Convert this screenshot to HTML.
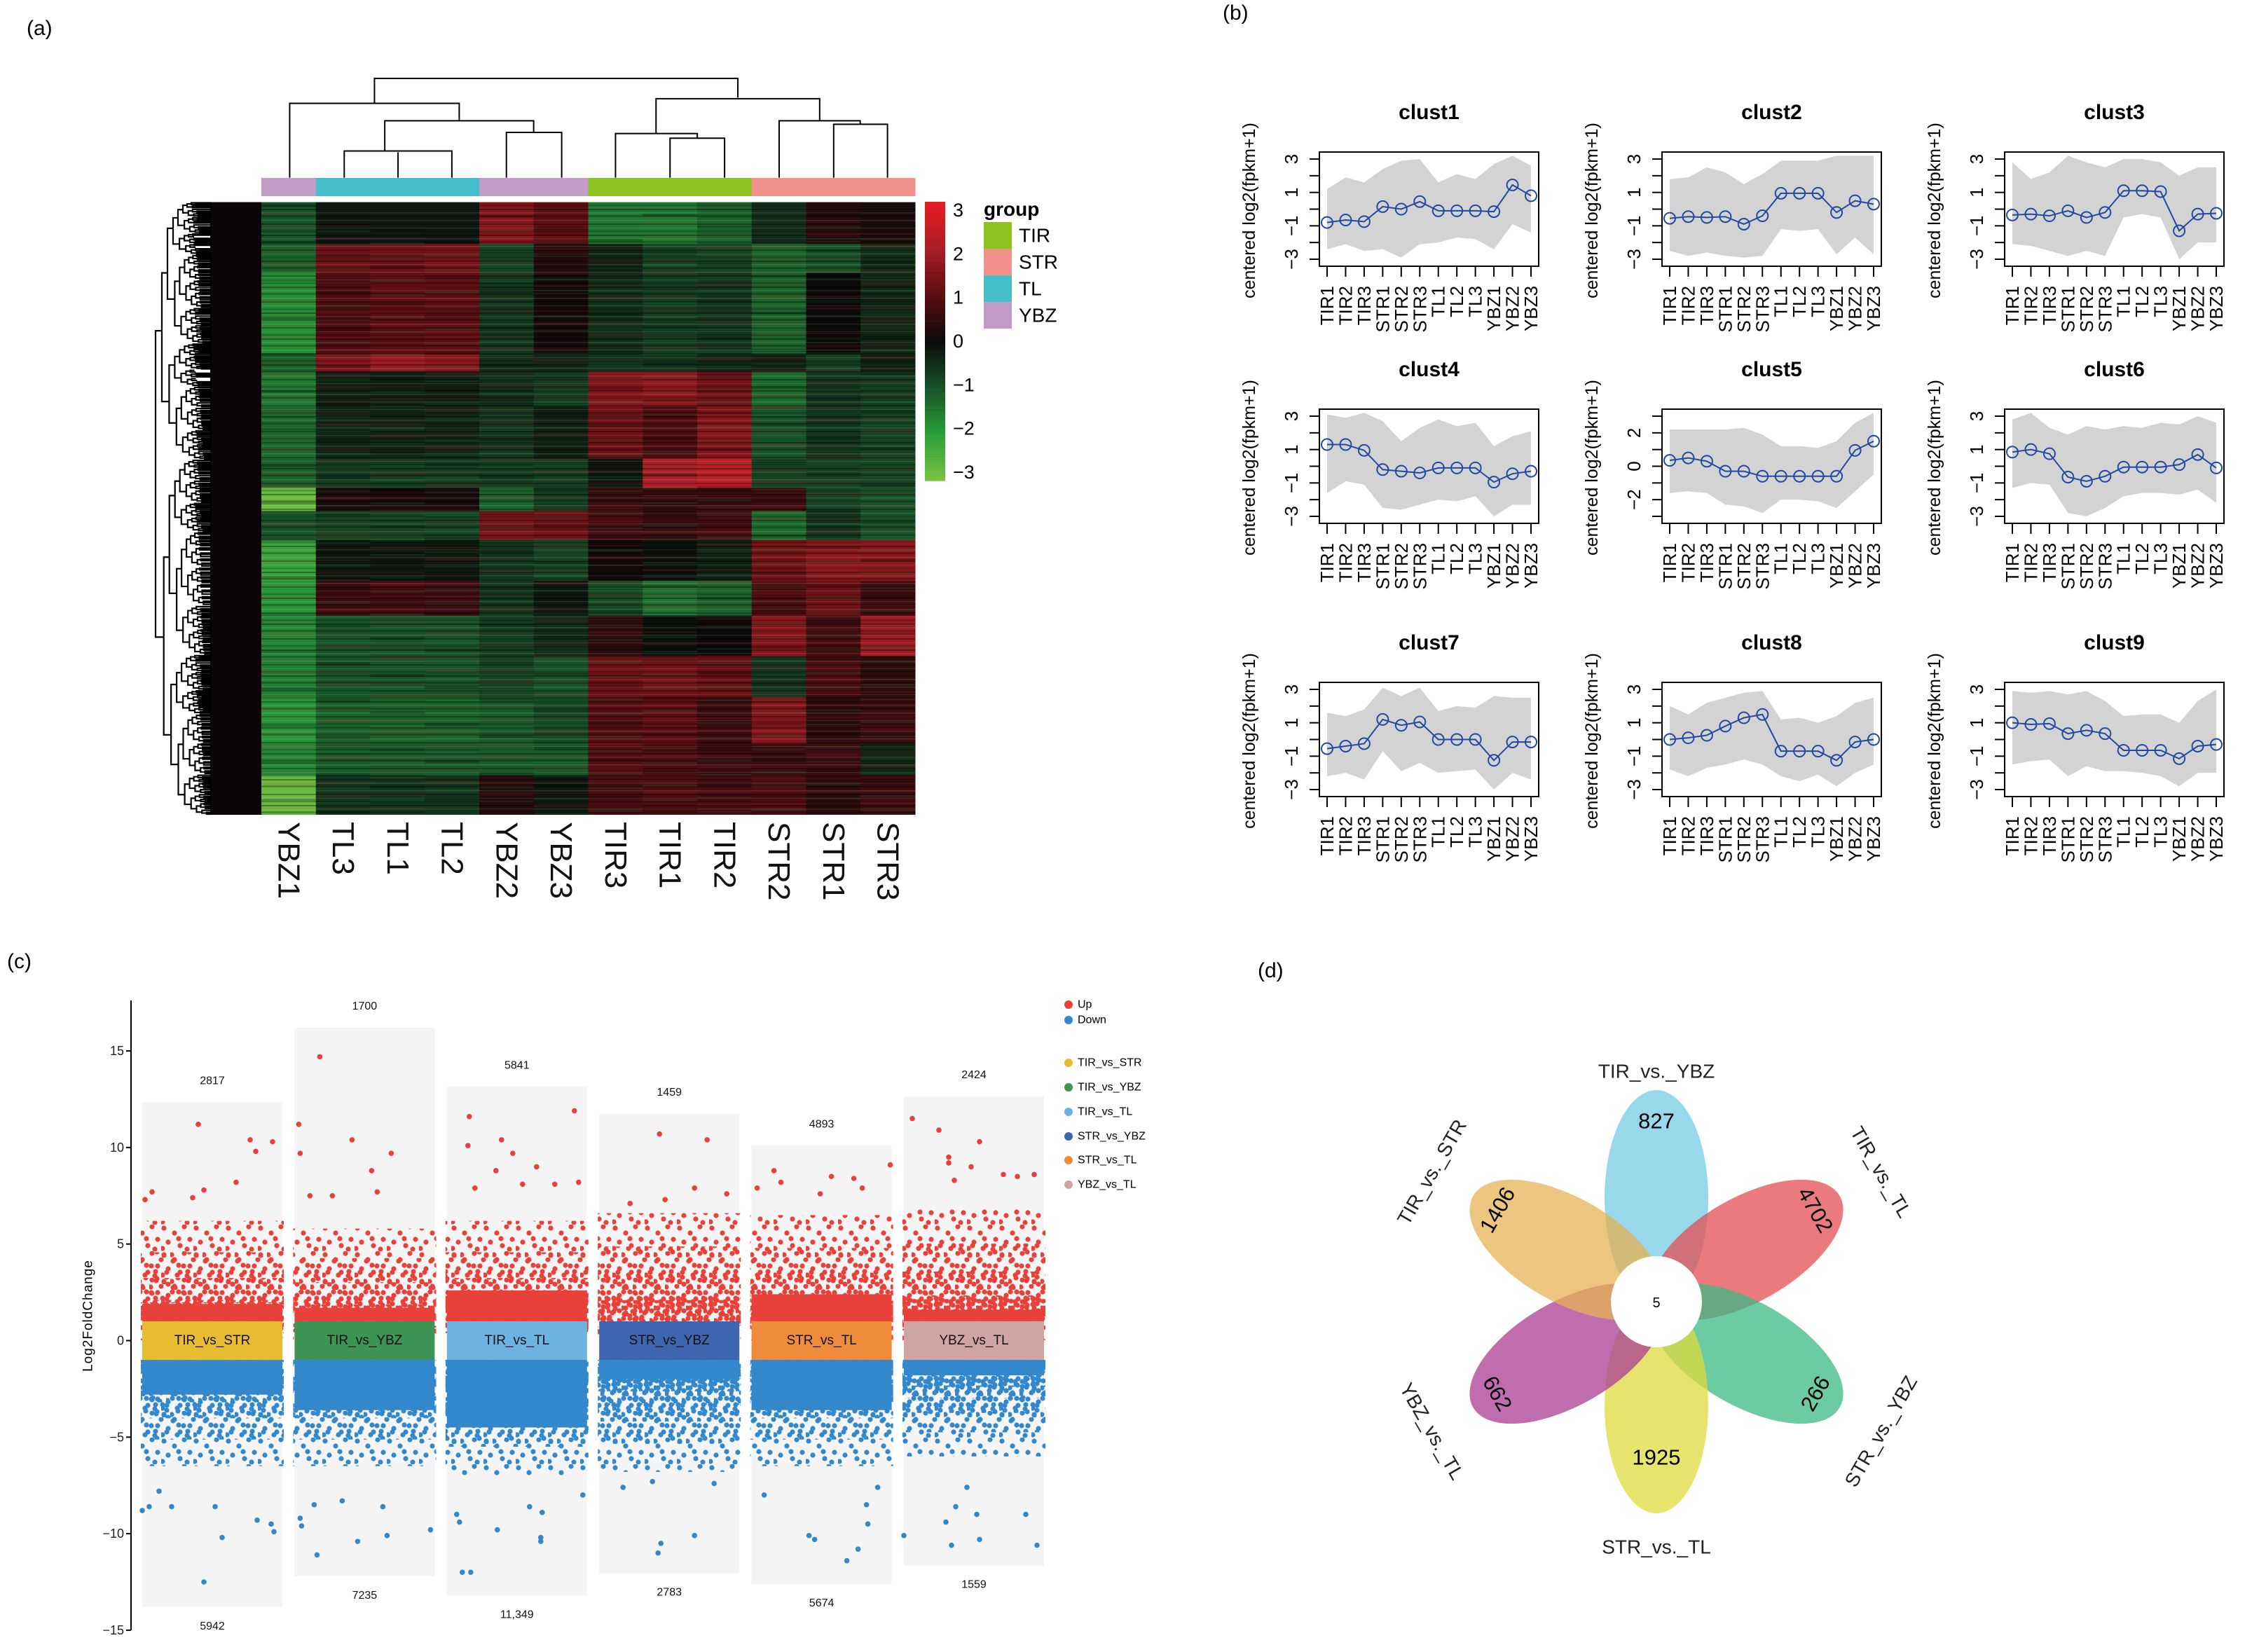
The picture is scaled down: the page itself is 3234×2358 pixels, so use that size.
<!DOCTYPE html>
<html><head><meta charset="utf-8"><style>
html,body{margin:0;padding:0;background:#fff;}
svg{display:block;font-family:"Liberation Sans",Arial,sans-serif;}
</style></head><body>
<svg id="fig" xmlns="http://www.w3.org/2000/svg" width="3234" height="2358" viewBox="0 0 3234 2358">
<defs>
<pattern id="stripes" width="12" height="37" patternUnits="userSpaceOnUse">
<rect x="0" y="2" width="12" height="2" fill="#000" opacity="0.35"/>
<rect x="0" y="7" width="12" height="1.5" fill="#fff" opacity="0.10"/>
<rect x="0" y="11" width="12" height="3" fill="#000" opacity="0.25"/>
<rect x="0" y="18" width="12" height="1.5" fill="#fff" opacity="0.12"/>
<rect x="0" y="23" width="12" height="2" fill="#000" opacity="0.3"/>
<rect x="0" y="29" width="12" height="1" fill="#fff" opacity="0.1"/>
<rect x="0" y="33" width="12" height="2.5" fill="#000" opacity="0.2"/>
</pattern>
<pattern id="stripes2" width="12" height="53" patternUnits="userSpaceOnUse">
<rect x="0" y="4" width="12" height="3" fill="#c02028" opacity="0.18"/>
<rect x="0" y="15" width="12" height="2" fill="#1c8a35" opacity="0.18"/>
<rect x="0" y="27" width="12" height="4" fill="#000" opacity="0.22"/>
<rect x="0" y="40" width="12" height="2" fill="#c02028" opacity="0.15"/>
<rect x="0" y="47" width="12" height="3" fill="#1c8a35" opacity="0.15"/>
</pattern>
<pattern id="dotsUp" width="46" height="38" patternUnits="userSpaceOnUse">
<circle cx="4" cy="5" r="3.6" fill="#e8413a"/><circle cx="19" cy="12" r="3.6" fill="#e8413a"/><circle cx="33" cy="3" r="3.6" fill="#e8413a"/><circle cx="41" cy="21" r="3.6" fill="#e8413a"/><circle cx="10" cy="25" r="3.6" fill="#e8413a"/><circle cx="27" cy="30" r="3.6" fill="#e8413a"/><circle cx="37" cy="35" r="3.6" fill="#e8413a"/><circle cx="2" cy="34" r="3.6" fill="#e8413a"/><circle cx="25" cy="20" r="3.6" fill="#e8413a"/>
</pattern>
<pattern id="dotsDown" width="46" height="38" patternUnits="userSpaceOnUse">
<circle cx="4" cy="5" r="3.6" fill="#3388cc"/><circle cx="19" cy="12" r="3.6" fill="#3388cc"/><circle cx="33" cy="3" r="3.6" fill="#3388cc"/><circle cx="41" cy="21" r="3.6" fill="#3388cc"/><circle cx="10" cy="25" r="3.6" fill="#3388cc"/><circle cx="27" cy="30" r="3.6" fill="#3388cc"/><circle cx="37" cy="35" r="3.6" fill="#3388cc"/><circle cx="2" cy="34" r="3.6" fill="#3388cc"/><circle cx="25" cy="20" r="3.6" fill="#3388cc"/>
</pattern>
</defs>

<text x="38" y="50" font-size="30">(a)</text>
<text x="1745" y="28" font-size="30">(b)</text>
<text x="10" y="1382" font-size="30">(c)</text>
<text x="1795" y="1395" font-size="30">(d)</text>

<g id="panelA"></g>
<g id="panelB"></g>
<g id="panelC"></g>
<g id="panelD"></g>
</svg>

<script>
// ---------- Panel A data ----------
const hmSamples = ['YBZ1','TL3','TL1','TL2','YBZ2','YBZ3','TIR3','TIR1','TIR2','STR2','STR1','STR3'];
const hmGroups = ['YBZ','TL','TL','TL','YBZ','YBZ','TIR','TIR','TIR','STR','STR','STR'];
const hmRowBreaks = [0,72,122,262,292,352,442,492,532,582,652,712,782,852,932,987,1055];
const hmBand1 = [-1.0,-0.2,-0.2,-0.2,1.5,1.0,-1.5,-1.5,-1.2,-0.5,0.3,0.2];
const hmBand2 = [-1.2,1.2,1.2,1.3,-0.8,0.3,-0.3,-0.8,-0.8,-1.2,-1.0,-0.5];
const hmBand3 = [-1.8,0.8,1.0,1.0,-0.6,0.1,-0.5,-0.7,-0.6,-1.2,0.0,-0.4];
const hmBand4 = [-1.2,1.5,1.8,1.6,-0.5,-0.4,-0.6,-0.6,-0.4,-0.3,-0.8,-0.3];
const hmBand5 = [-1.5,-0.3,-0.3,-0.3,-0.5,-0.7,1.5,1.6,1.2,-1.3,-0.6,-0.7];
const hmBand6 = [-1.3,-0.4,-0.4,-0.4,-0.6,-0.3,1.2,0.8,1.5,-1.0,-0.6,-0.8];
const hmBand7 = [-1.2,-0.7,-0.7,-0.7,-0.7,-0.7,-0.2,2.0,2.3,-0.8,-0.8,-0.8];
const hmBand8 = [-2.8,0.2,0.2,0.2,-1.2,-0.7,0.6,0.5,0.5,0.6,-0.8,-1.0];
const hmBand9 = [-1.0,-0.8,-0.8,-0.8,1.3,1.2,0.7,0.5,0.7,-1.3,-0.6,-1.0];
const hmBand10 = [-2.2,-0.2,-0.2,-0.2,-0.6,-0.8,0.1,-0.1,-0.3,1.3,1.6,1.6];
const hmBand11 = [-1.9,0.6,0.7,0.6,-0.6,-0.2,-0.9,-1.4,-1.2,0.8,1.2,0.6];
const hmBand12 = [-1.7,-1.0,-1.0,-1.0,-0.7,-0.5,0.4,-0.1,0.0,1.5,0.7,1.8];
const hmBand13 = [-1.6,-1.0,-1.0,-1.0,-0.8,-1.0,1.2,1.3,1.1,-0.6,0.8,0.4];
const hmBand14 = [-1.9,-1.2,-1.2,-1.2,-1.1,-0.9,0.9,1.0,0.6,1.5,0.4,0.6];
const hmBand15 = [-1.7,-1.1,-1.1,-1.1,-1.1,-1.1,0.9,0.8,0.6,0.6,0.6,-0.4];
const hmBand16 = [-2.8,-0.6,-0.6,-0.6,0.3,-0.2,0.7,0.8,0.7,0.8,0.4,0.6];
const hmBands = [hmBand1,hmBand2,hmBand3,hmBand4,hmBand5,hmBand6,hmBand7,hmBand8,hmBand9,hmBand10,hmBand11,hmBand12,hmBand13,hmBand14,hmBand15,hmBand16];
const legendGroups = ['TIR','STR','TL','YBZ'];
const colorbarTicks = [3,2,1,0,-1,-2,-3];

// ---------- Panel B data ----------
const clSamples = ['TIR1','TIR2','TIR3','STR1','STR2','STR3','TL1','TL2','TL3','YBZ1','YBZ2','YBZ3'];
const clNames = ['clust1','clust2','clust3','clust4','clust5','clust6','clust7','clust8','clust9'];
const clMean1 = [-0.8,-0.65,-0.75,0.15,0,0.45,-0.1,-0.1,-0.1,-0.15,1.45,0.8];
const clMean2 = [-0.55,-0.45,-0.5,-0.45,-0.9,-0.4,0.95,0.95,0.95,-0.2,0.5,0.3];
const clMean3 = [-0.35,-0.3,-0.4,-0.1,-0.5,-0.2,1.1,1.1,1.05,-1.3,-0.3,-0.25];
const clMean4 = [1.3,1.3,0.95,-0.2,-0.3,-0.4,-0.1,-0.1,-0.1,-0.95,-0.45,-0.3];
const clMean5 = [0.35,0.5,0.3,-0.3,-0.3,-0.6,-0.6,-0.6,-0.6,-0.6,0.95,1.5];
const clMean6 = [0.85,1.0,0.75,-0.65,-0.9,-0.6,-0.05,-0.05,-0.05,0.1,0.7,-0.1];
const clMean7 = [-0.55,-0.4,-0.25,1.2,0.85,1.05,0,0,0,-1.25,-0.15,-0.15];
const clMean8 = [0,0.1,0.25,0.8,1.3,1.5,-0.7,-0.7,-0.7,-1.25,-0.15,0];
const clMean9 = [1.0,0.9,0.95,0.35,0.55,0.35,-0.65,-0.65,-0.65,-1.15,-0.4,-0.3];
const clUpper1 = [1.2,1.9,1.6,2.4,2.9,3.0,1.6,2.1,1.8,2.7,3.2,2.6];
const clLower1 = [-2.4,-2.1,-2.5,-2.4,-2.9,-2.1,-2.0,-1.7,-1.8,-2.4,-0.9,-1.4];
const clUpper2 = [1.8,1.9,2.5,2.2,1.5,2.1,2.9,2.9,2.9,3.2,3.2,3.2];
const clLower2 = [-2.5,-2.8,-2.6,-2.8,-2.9,-2.8,-1.2,-1.3,-1.2,-2.7,-1.7,-2.7];
const clUpper3 = [2.8,1.8,2.2,3.2,2.8,2.5,3.0,3.0,2.8,2.0,2.5,2.5];
const clLower3 = [-2.1,-2.2,-2.5,-2.8,-2.5,-2.8,-0.5,-0.3,-0.5,-3.0,-2.0,-2.0];
const clUpper4 = [3.1,2.9,3.2,2.7,1.5,2.3,2.8,2.4,2.6,1.2,1.8,2.1];
const clLower4 = [-1.6,-0.9,-1.1,-2.5,-2.6,-2.3,-2.0,-2.1,-1.8,-3.0,-2.3,-2.3];
const clUpper5 = [2.2,2.2,2.2,2.2,2.3,1.9,1.2,1.2,1.1,1.5,2.6,3.2];
const clLower5 = [-1.6,-1.5,-1.6,-2.3,-2.4,-2.8,-2.0,-2.0,-2.1,-2.5,-1.5,-0.5];
const clUpper6 = [2.8,3.2,2.3,1.9,2.4,2.2,2.4,2.3,2.6,2.5,3.0,2.6];
const clLower6 = [-1.3,-1.0,-1.1,-2.8,-3.0,-2.5,-1.8,-1.6,-1.6,-1.7,-1.4,-2.2];
const clUpper7 = [1.6,1.4,1.8,3.1,2.6,3.1,1.7,2.0,1.9,2.6,2.5,2.5];
const clLower7 = [-2.2,-2.0,-2.4,-0.7,-1.9,-1.4,-2.0,-1.9,-1.8,-3.0,-2.0,-2.4];
const clUpper8 = [2.0,1.5,2.2,2.5,2.8,2.9,1.2,1.3,1.0,1.4,2.2,2.5];
const clLower8 = [-1.8,-2.2,-1.7,-1.5,-1.2,-1.5,-2.2,-2.5,-2.1,-2.8,-2.0,-1.5];
const clUpper9 = [2.9,2.8,2.9,2.7,2.9,2.3,1.4,1.5,1.5,1.0,2.3,3.0];
const clLower9 = [-1.5,-1.3,-1.2,-2.2,-1.6,-1.9,-1.9,-2.0,-2.2,-2.8,-2.0,-2.0];
const clMeans = [clMean1,clMean2,clMean3,clMean4,clMean5,clMean6,clMean7,clMean8,clMean9];
const clUppers = [clUpper1,clUpper2,clUpper3,clUpper4,clUpper5,clUpper6,clUpper7,clUpper8,clUpper9];
const clLowers = [clLower1,clLower2,clLower3,clLower4,clLower5,clLower6,clLower7,clLower8,clLower9];
const clTickLabels = ['3','1','\u22121','\u22123'];
const clTickLabelVals = [3,1,-1,-3];
const cl5TickLabels = ['2','0','\u22122'];
const cl5TickLabelVals = [2,0,-2];

// ---------- Panel C data ----------
const cmpNames = ['TIR_vs_STR','TIR_vs_YBZ','TIR_vs_TL','STR_vs_YBZ','STR_vs_TL','YBZ_vs_TL'];
const upCounts = [2817,1700,5841,1459,4893,2424];
const downCounts = [5942,7235,11349,2783,5674,1559];
const bgTop = [12.35,16.2,13.15,11.75,10.1,12.65];
const bgBottom = [-13.8,-12.2,-13.2,-12.05,-12.6,-11.65];
const upCore = [1.9,1.7,2.6,1.0,2.4,1.6];
const upSpread = [6.2,5.8,6.2,6.6,6.5,6.8];
const downCore = [-2.8,-3.6,-4.5,-2.0,-3.6,-1.8];
const downSpread = [-6.5,-6.5,-7.0,-6.8,-6.5,-6.0];
const yTicksC = [15,10,5,0,-5,-10,-15];
const upOutliers = [
 [[0.40,11.2],[0.77,10.4],[0.93,10.3],[0.81,9.8],[0.67,8.2],[0.44,7.8],[0.07,7.7],[0.36,7.4],[0.02,7.3]],
 [[0.18,14.7],[0.03,11.2],[0.04,9.7],[0.41,10.4],[0.69,9.7],[0.55,8.8],[0.59,7.7],[0.11,7.5],[0.27,7.5]],
 [[0.91,11.9],[0.16,11.6],[0.15,10.1],[0.39,10.4],[0.47,9.7],[0.64,9.0],[0.35,8.8],[0.54,8.1],[0.77,8.1],[0.94,8.2],[0.20,7.9]],
 [[0.43,10.7],[0.77,10.4],[0.68,7.9],[0.47,7.3],[0.22,7.1],[0.91,7.6]],
 [[0.99,9.1],[0.16,8.8],[0.57,8.5],[0.73,8.4],[0.21,8.2],[0.79,7.9],[0.04,7.9],[0.49,7.6]],
 [[0.06,11.5],[0.25,10.9],[0.54,10.3],[0.32,9.5],[0.32,9.2],[0.48,9.0],[0.71,8.6],[0.93,8.6],[0.81,8.5],[0.36,8.3]]
];
const downOutliers = [
 [[0.00,-8.8],[0.05,-8.6],[0.21,-8.6],[0.57,-10.2],[0.44,-12.5],[0.82,-9.3],[0.94,-9.9],[0.12,-7.8],[0.52,-8.6],[0.92,-9.5]],
 [[0.16,-11.1],[0.04,-9.2],[0.05,-9.6],[0.45,-10.4],[0.66,-10.1],[0.97,-9.8],[0.14,-8.5],[0.63,-8.6],[0.34,-8.3]],
 [[0.11,-12.0],[0.17,-12.0],[0.07,-9.0],[0.09,-9.4],[0.36,-9.8],[0.67,-10.2],[0.67,-10.4],[0.59,-8.6],[0.68,-8.9],[0.97,-8.0]],
 [[0.42,-11.0],[0.44,-10.5],[0.68,-10.1],[0.17,-7.6],[0.38,-7.3],[0.82,-7.4]],
 [[0.68,-11.4],[0.76,-10.8],[0.41,-10.1],[0.45,-10.3],[0.83,-9.5],[0.82,-8.5],[0.09,-8.0],[0.90,-7.6]],
 [[0.00,-10.1],[0.34,-10.6],[0.54,-10.3],[0.95,-10.6],[0.30,-9.4],[0.52,-9.0],[0.87,-9.0],[0.37,-8.6],[0.45,-7.6]]
];

// ---------- Panel D data ----------
const vennSets = ['TIR_vs._YBZ','TIR_vs._TL','STR_vs._YBZ','STR_vs._TL','YBZ_vs._TL','TIR_vs._STR'];
const vennUnique = [827,4702,266,1925,662,1406];
const vennCore = 5;

const NS='http://www.w3.org/2000/svg';
function mk(tag, attrs, parent, txt){
  const e=document.createElementNS(NS,tag);
  for(const k in attrs) e.setAttribute(k, attrs[k]);
  if(txt!==undefined) e.textContent=txt;
  parent.appendChild(e); return e;
}

// ================= PANEL A =================
(function(){
  const g=document.getElementById('panelA');
  const X0=373, X1=1306, Y0=288.5, Y1=1163;
  const cw=(X1-X0)/hmSamples.length;
  const rowScale=(Y1-Y0)/hmRowBreaks[hmRowBreaks.length-1];
  const yRow=r=>Y0+r*rowScale;
  const xCol=i=>X0+i*cw;
  const stops=[[-3,[122,194,66]],[-2,[42,158,58]],[-1,[24,82,40]],[0,[12,10,10]],[1,[92,14,18]],[2,[170,30,38]],[3,[232,28,36]]];
  function col(v){
    v=Math.max(-3,Math.min(3,v));
    for(let i=0;i<stops.length-1;i++){
      if(v<=stops[i+1][0]){const t=(v-stops[i][0]);const a=stops[i][1],b=stops[i+1][1];
        return 'rgb('+a.map((c,k)=>Math.round(c+(b[k]-c)*t)).join(',')+')';}
    }
  }
  const groupColors={TIR:'#8dc21f',STR:'#f0918a',TL:'#45bfc9',YBZ:'#c39bc7'};
  const cells=mk('g',{},g);
  
  
  hmBands.forEach((band,b)=>{
    band.forEach((v,i)=>{
      const r=mk('rect',{x:xCol(i),y:yRow(hmRowBreaks[b]),width:cw+0.5,height:yRow(hmRowBreaks[b+1])-yRow(hmRowBreaks[b])+0.5,fill:col(v)},cells);
      
      
    });
  });
  mk('rect',{x:X0,y:Y0,width:X1-X0,height:Y1-Y0,fill:'url(#stripes)'},g);
  for(let i=0;i<hmSamples.length;i++){
    mk('rect',{x:xCol(i),y:Y0,width:cw,height:Y1-Y0,fill:'url(#stripes2)',transform:'translate(0,'+((i*17)%53)+')','clip-path':'none'},g);
  }
  mk('rect',{x:X0,y:Y1,width:X1-X0,height:60,fill:'#fff'},g);
  // annotation bar
  hmGroups.forEach((gr,i)=>{
    const r=mk('rect',{x:xCol(i),y:254,width:cw+0.5,height:26,fill:groupColors[gr]},g);
    
    
  });
  // column labels
  hmSamples.forEach((s,i)=>{
    const cx=xCol(i)+cw/2;
    const t=mk('text',{x:cx,y:1173,'font-size':44,'dominant-baseline':'central',transform:'rotate(90 '+cx+' 1173)',fill:'#111'},g,s);
    
    
  });
  // top dendrogram
  const dg=mk('g',{transform:'scale(1.052,0.829)',stroke:'#000','stroke-width':2,fill:'none'},g);
  
  
  const segs='M508,178V135H1001V168 M393,306V178H623V208 M522,260V208H724V228 M467,306V260H613V306 M540,306V262 M687,306V228H762V306 M890,230V170H1112V208 M835,306V230H946V238 M909,306V238H983V306 M1057,306V208H1167V214 M1131,306V214H1204V306';
  mk('path',{d:segs,'vector-effect':'non-scaling-stroke'},dg);
  // left dendrogram (decorative)
  const lg=mk('g',{},g);
  
  
  mk('rect',{x:300,y:Y0,width:X0-300,height:Y1-Y0,fill:'#0a0606'},lg);
  let d='';
  function br(y0,y1,x,depth){
    if(depth>8||y1-y0<3){return;}
    const f=[0.42,0.55,0.37,0.6,0.48][depth%5];
    const m=y0+(y1-y0)*f;
    const ya=(y0+m)/2, yb=(m+y1)/2;
    const step=[9,8,8,7,7,6,6,5,5][depth];
    d+='M'+(x+step)+','+ya+'H'+x+'V'+yb+'H'+(x+step*1.3)+' ';
    if(depth>=7){ d+='M'+(x+step)+','+ya+'H302 M'+(x+step*1.3)+','+yb+'H302 '; }
    br(y0,m,x+step,depth+1); br(m,y1,x+step*1.3,depth+1);
  }
  br(Y0,Y1,222,0);
  mk('path',{d:d,stroke:'#000','stroke-width':2.2,fill:'none'},lg);
  // colorbar
  const cb=mk('g',{},g);
  
  
  const cbTop=288, cbBot=686;
  for(let k=0;k<60;k++){
    const v=3-6*(k+0.5)/60;
    mk('rect',{x:1320,y:cbTop+k*(cbBot-cbTop)/60,width:29,height:(cbBot-cbTop)/60+0.6,fill:col(v)},cb);
  }
  colorbarTicks.forEach(v=>{
    const y=cbTop+12+(3-v)/6*(cbBot-cbTop-24);
    const t=mk('text',{x:1360,y:y,'font-size':27,'dominant-baseline':'central'},cb,v<0?'\u2212'+Math.abs(v):String(v));
    
    
  });
  // legend
  const lgd=mk('g',{},g);
  
  
  mk('text',{x:1404,y:308,'font-size':28,'font-weight':'bold'},lgd,'group');
  legendGroups.forEach((gr,i)=>{
    const sw=mk('rect',{x:1404,y:317+i*38,width:40,height:38,fill:groupColors[gr]},lgd);
    
    
    const t=mk('text',{x:1454,y:336+i*38,'font-size':28,'dominant-baseline':'central'},lgd,gr);
    
    
  });
})();

// ================= PANEL B =================
(function(){
  const g=document.getElementById('panelB');
  const colOff=[0,489,978], rowOff=[0,367,757];
  clNames.forEach((name,c)=>{
    const bx=1883+colOff[c%3], by=217+rowOff[Math.floor(c/3)];
    const bw=313, bh=163;
    const pg=mk('g',{},g);
    
    
    const xS=i=>bx+11+i*(bw-22)/11;
    const yS=v=>by+10+(3-v)/6*(bh-20);
    let pts=clUppers[c].map((v,i)=>xS(i)+','+yS(v));
    pts=pts.concat(clLowers[c].map((v,i)=>xS(i)+','+yS(v)).reverse());
    const env=mk('polygon',{points:pts.join(' '),fill:'#d3d3d3'},pg);
    
    
    mk('rect',{x:bx,y:by,width:bw,height:bh,fill:'none',stroke:'#000','stroke-width':2},pg);
    const ln=mk('polyline',{points:clMeans[c].map((v,i)=>xS(i)+','+yS(v)).join(' '),fill:'none',stroke:'#1f4aa0','stroke-width':2},pg);
    
    
    clMeans[c].forEach((v,i)=>{
      const p=mk('circle',{cx:xS(i),cy:yS(v),r:8,fill:'none',stroke:'#1f4aa0','stroke-width':2},pg);
      
      
    });
    for(let v=-3;v<=3;v++){ mk('line',{x1:bx-14,x2:bx,y1:yS(v),y2:yS(v),stroke:'#000','stroke-width':2},pg); }
    const labs=(c===4)?cl5TickLabels:clTickLabels, vals=(c===4)?cl5TickLabelVals:clTickLabelVals;
    labs.forEach((lab,k)=>{
      const y=yS(vals[k]);
      const t=mk('text',{x:bx-40,y:y,'font-size':26,'text-anchor':'middle','dominant-baseline':'central',transform:'rotate(-90 '+(bx-40)+' '+y+')'},pg,lab);
      
      
    });
    clSamples.forEach((s,i)=>{
      mk('line',{x1:xS(i),x2:xS(i),y1:by+bh,y2:by+bh+15,stroke:'#000','stroke-width':2},pg);
      const y=by+bh+28;
      const t=mk('text',{x:xS(i),y:y,'font-size':26,'text-anchor':'end','dominant-baseline':'central',transform:'rotate(-90 '+xS(i)+' '+y+')'},pg,s);
      
      
    });
    const tt=mk('text',{x:bx+bw/2,y:by-47,'font-size':30,'font-weight':'bold','text-anchor':'middle'},pg,name);
    
    
    const yl=by+bh/2+2;
    const yt=mk('text',{x:bx-100,y:yl,'font-size':25,'text-anchor':'middle','dominant-baseline':'central',transform:'rotate(-90 '+(bx-100)+' '+yl+')'},pg,'centered log2(fpkm+1)');
    
    
  });
})();

// ================= PANEL C =================
(function(){
  const g=document.getElementById('panelC');
  const svg=document.getElementById('fig');
  const defs=svg.querySelector('defs');
  const y0=1913.5, k=27.56;
  const yS=v=>y0-v*k;
  const x0=203, step=217.4, w=200;
  const bandColors=['#e8bc30','#3e9356','#6db3e2','#3e66b0','#ef8c3c','#cfa4a3'];
  mk('line',{x1:187,x2:187,y1:1428,y2:yS(-15),stroke:'#000','stroke-width':2},g);
  yTicksC.forEach(v=>{
    mk('line',{x1:180,x2:187,y1:yS(v),y2:yS(v),stroke:'#000','stroke-width':2},g);
    const t=mk('text',{x:177,y:yS(v),'font-size':18,'text-anchor':'end','dominant-baseline':'central',fill:'#222'},g,v<0?'\u2212'+Math.abs(v):String(v));
    
    
  });
  const yt=mk('text',{x:126,y:1878,'font-size':19,'letter-spacing':1,'text-anchor':'middle','dominant-baseline':'central',transform:'rotate(-90 126 1878)'},g,'Log2FoldChange');
  
  
  cmpNames.forEach((nm,i)=>{
    const x=x0+i*step;
    const cp=mk('clipPath',{id:'colclip'+i},defs);
    mk('rect',{x:x-2,y:1400,width:w+4,height:950},cp);
    const cg=mk('g',{},g);
    
    
    mk('rect',{x:x,y:yS(bgTop[i]),width:w,height:yS(bgBottom[i])-yS(bgTop[i]),fill:'#f4f4f4'},cg);
    const sg=mk('g',{'clip-path':'url(#colclip'+i+')'},cg);
    // layered scatter density: more layers near the band
    const fr=[1,0.75,0.55,0.4,0.28];
    const offs=[[0,0],[13,9],[29,17],[7,27],[38,13]];
    fr.forEach((f,j)=>{
      const top=1+(upSpread[i]-1)*f;
      mk('rect',{x:x-50,y:yS(top),width:w+100,height:yS(1)-yS(top),fill:'url(#dotsUp)',transform:'translate('+offs[j][0]+','+offs[j][1]+')'},sg);
      const bot=-1+(downSpread[i]+1)*f;
      mk('rect',{x:x-50,y:yS(-1)-offs[j][1],width:w+100,height:yS(bot)-yS(-1),fill:'url(#dotsDown)',transform:'translate('+offs[j][0]+','+offs[j][1]+')'},sg);
    });
    if(upCore[i]>1.05){
      const r=mk('rect',{x:x,y:yS(upCore[i]),width:w,height:yS(1)-yS(upCore[i]),fill:'#e8413a'},cg);
      
      
    }
    const dr=mk('rect',{x:x,y:yS(-1),width:w,height:yS(downCore[i])-yS(-1),fill:'#3388cc'},cg);
    
    
    upOutliers[i].forEach(p=>{
      const c=mk('circle',{cx:x+p[0]*w,cy:yS(p[1]),r:3.8,fill:'#e8413a'},cg);
      
      
    });
    downOutliers[i].forEach(p=>{
      const c=mk('circle',{cx:x+p[0]*w,cy:yS(p[1]),r:3.8,fill:'#3388cc'},cg);
      
      
    });
    const band=mk('rect',{x:x,y:yS(1),width:w,height:yS(-1)-yS(1),fill:bandColors[i]},cg);
    
    
    const bl=mk('text',{x:x+w/2,y:y0,'font-size':19,'text-anchor':'middle','dominant-baseline':'central',fill:'#111'},cg,nm);
    
    
    const ut=mk('text',{x:x+w/2,y:yS(bgTop[i]+1.1),'font-size':16,'text-anchor':'middle','dominant-baseline':'central',fill:'#111'},cg,String(upCounts[i]));
    
    
    const dn=downCounts[i]>=10000?downCounts[i].toLocaleString('en-US'):String(downCounts[i]);
    const dt=mk('text',{x:x+w/2,y:yS(bgBottom[i]-1.0),'font-size':16,'text-anchor':'middle','dominant-baseline':'central',fill:'#111'},cg,dn);
    
    
  });
  const lg=mk('g',{},g);
  
  
  [['Up','#e8413a',1434],['Down','#3388cc',1456]].forEach(e=>{
    const c=mk('circle',{cx:1525,cy:e[2],r:6,fill:e[1]},lg);
    
    
    const t=mk('text',{x:1538,y:e[2],'font-size':16,'dominant-baseline':'central'},lg,e[0]);
    
    
  });
  const ly=[1517,1552,1587,1622,1656,1691];
  cmpNames.forEach((nm,i)=>{
    const c=mk('circle',{cx:1525,cy:ly[i],r:6,fill:bandColors[i]},lg);
    
    
    const t=mk('text',{x:1538,y:ly[i],'font-size':16,'dominant-baseline':'central'},lg,nm);
    
    
  });
})();

// ================= PANEL D =================
(function(){
  const g=document.getElementById('panelD');
  const cx=2364, cy=1858, dist=148, rx=74, ry=154;
  const angles=[90,30,-30,-90,210,150];
  const cols=['#74cbe3','#e44e53','#3bba84','#dedb3b','#aa3c94','#e6b253'];
  const numR=[258,262,262,222,262,262];
  const labR=[329,370,370,350,370,370];
  const rot=[0,60,-60,0,60,-60];
  angles.forEach((a,i)=>{
    const rad=a*Math.PI/180;
    const ex=cx+dist*Math.cos(rad), ey=cy-dist*Math.sin(rad);
    const e=mk('ellipse',{cx:ex,cy:ey,rx:rx,ry:ry,fill:cols[i],'fill-opacity':0.75,transform:'rotate('+(90-a)+' '+ex+' '+ey+')'},g);
    
    
  });
  angles.forEach((a,i)=>{
    const rad=a*Math.PI/180;
    const nx=cx+numR[i]*Math.cos(rad), ny=cy-numR[i]*Math.sin(rad);
    const t=mk('text',{x:nx,y:ny,'font-size':31,'text-anchor':'middle','dominant-baseline':'central',transform:'rotate('+rot[i]+' '+nx+' '+ny+')'},g,String(vennUnique[i]));
    
    
    const lx=cx+labR[i]*Math.cos(rad), ly=cy-labR[i]*Math.sin(rad);
    const l=mk('text',{x:lx,y:ly,'font-size':28,'text-anchor':'middle','dominant-baseline':'central',fill:'#222',transform:'rotate('+rot[i]+' '+lx+' '+ly+')'},g,vennSets[i]);
    
    
  });
  const c=mk('circle',{cx:cx,cy:cy,r:65,fill:'#fff'},g);
  
  
  const t=mk('text',{x:cx,y:cy+2,'font-size':20,'text-anchor':'middle','dominant-baseline':'central'},g,String(vennCore));
  
  
})();
</script>
</body></html>
